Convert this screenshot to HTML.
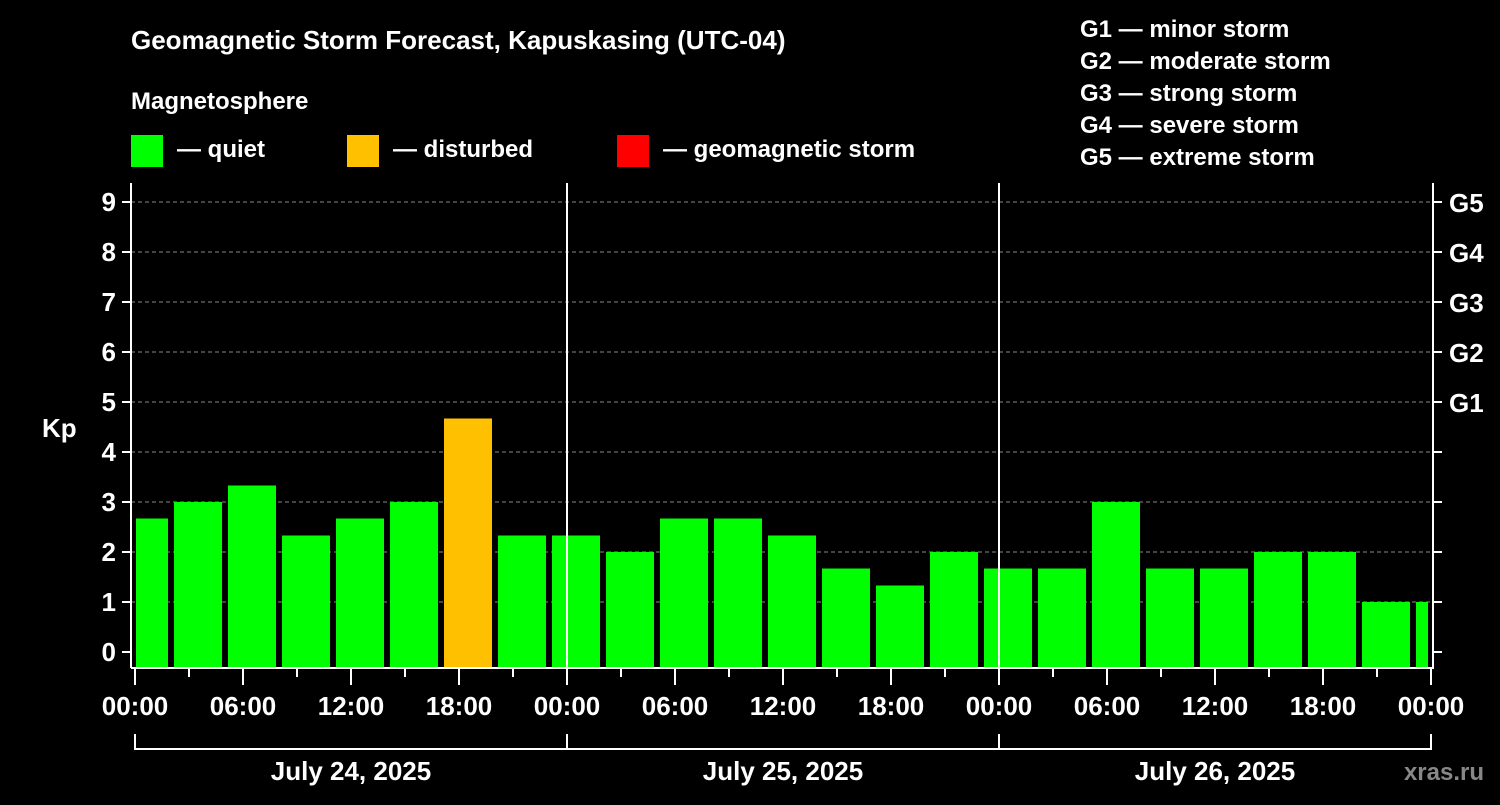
<!DOCTYPE html>
<html><head><meta charset="utf-8"><style>
html,body{margin:0;padding:0;background:#000;}
svg text{font-family:"Liberation Sans",Arial,sans-serif;font-weight:bold;fill:#fff;}
</style></head><body>
<svg width="1500" height="800" viewBox="0 0 1500 800" xmlns="http://www.w3.org/2000/svg">
<rect width="1500" height="800" fill="#000"/>
<text x="131" y="49" font-size="26">Geomagnetic Storm Forecast, Kapuskasing (UTC-04)</text>
<text x="131" y="109" font-size="24">Magnetosphere</text>
<g><rect x="131" y="135" width="32" height="32" fill="#00ff00"/><text x="177" y="157" font-size="24">— quiet</text></g>
<g><rect x="347" y="135" width="32" height="32" fill="#ffc000"/><text x="393" y="157" font-size="24">— disturbed</text></g>
<g><rect x="617" y="135" width="32" height="32" fill="#ff0000"/><text x="663" y="157" font-size="24">— geomagnetic storm</text></g>
<g font-size="24">
<text x="1080" y="37">G1 — minor storm</text>
<text x="1080" y="69">G2 — moderate storm</text>
<text x="1080" y="101">G3 — strong storm</text>
<text x="1080" y="133">G4 — severe storm</text>
<text x="1080" y="165">G5 — extreme storm</text>
</g>
<text x="42" y="437" font-size="26">Kp</text>
<g id="grid"></g><g id="bars"></g><g id="axes"></g>
<text x="1484" y="780" font-size="24" fill="#888" style="fill:#888" text-anchor="end">xras.ru</text>
</svg>
<script>
const kpValues=[2.67,3,3.33,2.33,2.67,3,4.67,2.33,2.33,2,2.67,2.67,2.33,1.67,1.33,2,1.67,1.67,3,1.67,1.67,2,2,1,1];
const barStartHours=0.5;
const hourLabels=["00:00","06:00","12:00","18:00","00:00","06:00","12:00","18:00","00:00","06:00","12:00","18:00","00:00"];
const dayLabels=["July 24, 2025","July 25, 2025","July 26, 2025"];
const gLabels=["G1","G2","G3","G4","G5"];
const NS="http://www.w3.org/2000/svg";
const x0=135,pxH=18,y0=652,pxK=50,plotL=131,plotR=1433,plotT=183,plotB=668;
const X=h=>x0+h*pxH, Y=k=>y0-k*pxK;
function mk(p,t,a){const e=document.createElementNS(NS,t);for(const k in a)e.setAttribute(k,a[k]);p.appendChild(e);return e;}
const grid=document.getElementById('grid'),bars=document.getElementById('bars'),axes=document.getElementById('axes');
for(let k=1;k<=9;k++){const l=mk(grid,'line',{x1:plotL,x2:plotR,y1:Y(k),y2:Y(k),stroke:'#888','stroke-dasharray':'4,3','stroke-width':1});
}
kpValues.forEach((v,i)=>{const c=barStartHours+3*i;let a=X(c)-24,b=X(c)+24;a=Math.max(a,136);b=Math.min(b,1428);
const r=mk(bars,'rect',{x:a,y:Y(v),width:b-a,height:plotB-Y(v),fill:v>=5?'#ff0000':(v>=4?'#ffc000':'#00ff00')});
});
const w={stroke:'#fff','stroke-width':2};
mk(axes,'line',Object.assign({x1:plotL,x2:plotL,y1:plotT,y2:plotB},w));
mk(axes,'line',Object.assign({x1:plotR,x2:plotR,y1:plotT,y2:plotB+1},w));
mk(axes,'line',Object.assign({x1:plotL,x2:plotR,y1:plotB,y2:plotB},w));
for(let d=1;d<=2;d++)mk(axes,'line',Object.assign({x1:X(24*d),x2:X(24*d),y1:plotT,y2:plotB},w));
for(let k=0;k<=9;k++){mk(axes,'line',Object.assign({x1:122,x2:plotL,y1:Y(k),y2:Y(k)},w));
mk(axes,'line',Object.assign({x1:plotR,x2:1442,y1:Y(k),y2:Y(k)},w));
const t=mk(axes,'text',{x:116,y:Y(k)+9,'font-size':26,'text-anchor':'end'});t.textContent=k;
}
gLabels.forEach((g,i)=>{const t=mk(axes,'text',{x:1449,y:Y(5+i)+10,'font-size':26});t.textContent=g;
});
for(let h=0;h<=72;h+=3){mk(axes,'line',Object.assign({x1:X(h),x2:X(h),y1:plotB,y2:plotB+(h%6?9:17)},w));}
hourLabels.forEach((s,i)=>{const t=mk(axes,'text',{x:X(6*i),y:715,'font-size':26,'text-anchor':'middle'});t.textContent=s;
});
mk(axes,'line',Object.assign({x1:X(0),x2:X(72),y1:749,y2:749},w));
for(let d=0;d<=3;d++)mk(axes,'line',Object.assign({x1:X(24*d),x2:X(24*d),y1:734,y2:750},w));
dayLabels.forEach((s,i)=>{const t=mk(axes,'text',{x:X(24*i+12),y:780,'font-size':26,'text-anchor':'middle'});t.textContent=s;
});
</script>
</body></html>
